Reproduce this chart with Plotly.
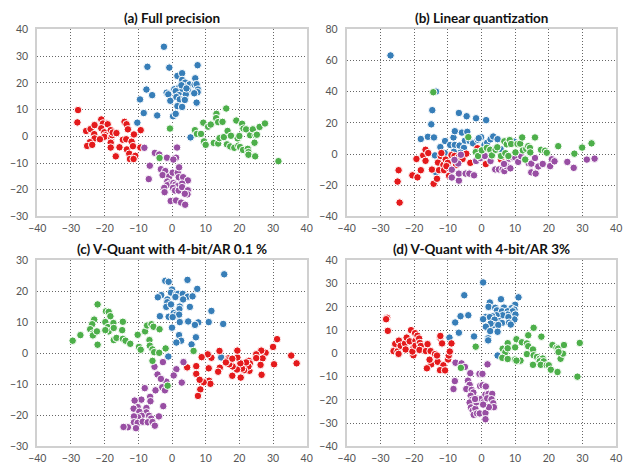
import plotly.graph_objects as go

# ---------------- data ----------------
# (a) Full precision
a_blue_x = [-2.4, -7.3, -0.8, 7.6, -7.6, -5.9, -9.5, -8.4, -4.4, -10.3, -1.6, -1.1, -0.5, 0.7, 1.6, 3.0, 3.0, 3.9, 5.2, 6.9, 6.7, 7.3, 7.7, 7.6, 6.6, 4.7, 3.5, 2.1, 2.4, 1.1, 2.1, 1.3, 2.3, 3.7, 4.1, 3.8, 0.3, 1.1, 1.6, 3.0, 7.3, 5.5, 2.8, 4.3]
a_blue_y = [33.5, 26.0, 25.7, 26.6, 17.5, 15.4, 13.8, 8.7, 7.8, 5.1, 16.3, 15.7, 13.3, 17.6, 22.6, 23.6, 21.1, 20.1, 19.4, 21.7, 19.3, 19.5, 17.5, 16.5, 16.1, 17.5, 18.7, 18.2, 17.0, 16.9, 15.4, 14.7, 13.8, 14.4, 15.7, 13.6, 7.5, 8.4, 11.3, 11.0, 12.6, -0.4, 19.1, 17.9]
a_green_x = [-0.6, -3.7, 13.2, 16.1, 13.1, 13.7, 15.0, 9.3, 10.7, 11.5, 6.8, 7.4, 8.6, 9.5, 10.0, 12.4, 13.7, 14.1, 15.4, 16.5, 17.5, 16.3, 17.3, 18.5, 19.1, 19.5, 20.0, 19.7, 20.2, 21.1, 20.8, 21.2, 22.0, 23.2, 24.0, 24.8, 26.0, 27.6, 25.2, 24.5, 22.5, 22.7, 22.7, 24.7, 31.6]
a_green_y = [2.9, -8.1, 8.4, 10.4, 6.8, 5.3, 5.4, 5.1, 3.6, 4.4, 2.3, 0.9, 0.9, -1.9, -3.2, -2.5, -2.7, -0.7, -0.3, 2.0, 0.2, -3.0, -3.8, -4.3, 5.9, -0.8, 0.1, -3.5, -4.0, -5.1, 4.7, 2.9, 2.6, 0.4, 2.6, 0.4, 3.5, 4.8, 0.6, -2.4, -4.7, -5.9, -6.9, -7.5, -9.3]
a_red_x = [-27.9, -28.1, -25.5, -24.2, -23.0, -23.1, -23.0, -24.4, -25.2, -23.7, -21.0, -19.4, -20.5, -21.0, -20.1, -19.8, -20.1, -21.4, -19.1, -18.2, -18.1, -17.8, -17.6, -18.2, -18.2, -16.5, -15.6, -16.7, -14.1, -13.5, -13.1, -14.6, -13.6, -13.4, -12.7, -12.0, -11.3, -11.6, -12.5, -10.9, -11.4, -9.3, -9.4]
a_red_y = [9.8, 5.2, 2.0, 2.7, 4.2, 0.8, -0.8, -2.2, -3.6, -3.2, 6.3, 4.8, 4.8, 3.0, 1.5, 0.4, -0.2, -1.1, 4.5, 2.3, -0.5, 0.4, 1.4, -2.4, -4.2, 1.2, -4.1, -7.5, 5.4, 4.5, 2.6, -1.3, -1.1, -4.9, -6.5, -2.0, 0.7, -3.7, -8.5, -7.3, -8.5, 2.3, -4.2]
a_purple_x = [-8.2, -5.1, -3.8, -1.5, 1.2, 0.4, 1.5, -6.6, -6.9, -3.3, -2.0, -2.8, -0.8, 0.2, 1.7, 2.1, 2.0, 3.3, 4.7, -1.4, -0.6, -1.4, -2.3, -2.2, 0.4, 1.0, 1.7, 3.0, 0.3, 0.9, 2.0, 3.0, 4.7, 4.6, 3.8, -0.4, 1.2, 2.7, 3.9]
a_purple_y = [-4.3, -6.2, -6.8, -8.0, -8.0, -8.7, -4.2, -11.0, -16.0, -12.3, -13.0, -14.5, -15.0, -13.6, -13.6, -11.6, -15.3, -15.3, -16.5, -16.9, -17.7, -18.3, -19.3, -20.9, -17.5, -18.1, -18.6, -17.7, -19.3, -20.3, -20.3, -19.0, -20.2, -21.7, -21.5, -24.2, -24.0, -24.8, -25.6]

# (b) Linear quantization
b_blue_x = [-27.0, -13.5, -14.6, -14.9, -18.0, -15.9, -14.1, -10.8, -8.3, -7.9, -6.7, -4.4, -1.6, 1.4, -5.8, -4.2, -12.2, -10.9, -9.3, -7.9, -6.5, -4.9, -5.2, -3.5, -2.5, -1.1, -0.1, -0.8, 0.9, 1.7, 2.7, 3.5, 4.8, 5.7, 9.7, -6.2, -6.1, -8.2, -13.5, -12.0, -13.8]
b_blue_y = [63.3, 40.1, 28.2, 19.1, 9.7, 11.1, 10.7, 8.4, 10.7, 14.7, 26.4, 24.3, 23.0, 21.8, 13.8, 14.3, 4.5, 0.7, 5.9, 5.9, 5.5, 8.6, 4.0, 8.4, 6.9, 9.2, 10.9, 10.2, 5.9, 7.3, 9.5, 11.3, 9.6, 3.2, 8.0, 0.9, -2.0, 1.5, -11.6, -8.5, -0.8]
b_green_x = [-14.3, -3.9, -1.7, -1.0, 0.1, 1.6, 2.6, 3.1, 4.2, 4.7, 5.8, 6.8, 7.5, 8.4, 8.8, 10.1, 10.7, 11.5, 12.1, 12.3, 13.3, 13.9, 14.4, 14.5, 13.0, 15.9, 17.7, 18.9, 19.4, 22.8, 27.6, 29.9, 32.7, 7.1, 8.0]
b_green_y = [39.7, 10.9, 1.3, -1.2, 2.4, 4.0, 2.8, -0.8, 2.8, 4.4, -1.2, 8.2, 6.3, 9.0, 6.5, 1.1, 6.5, 6.7, 10.7, 2.4, 3.4, 5.1, 4.0, 1.1, -3.5, 10.7, 2.8, 2.2, 0.9, 5.1, 0.3, 4.2, 6.9, 0.6, -1.2]
b_red_x = [-24.3, -24.9, -24.6, -20.5, -19.0, -19.3, -18.0, -17.3, -16.6, -15.8, -16.6, -14.7, -14.2, -13.2, -12.9, -12.6, -12.1, -11.9, -11.3, -11.1, -10.6, -10.0, -9.6, -9.6, -8.9, -8.0, -7.5, -6.8, -5.6, -4.5, -3.3, -1.2, 1.3, 5.8, -10.4]
b_red_y = [-31.1, -17.6, -10.3, -13.6, -14.9, -3.1, -10.3, -0.8, 2.8, 0.7, -4.3, -9.9, -19.0, -15.8, -5.4, -10.3, -1.2, 0.7, -6.9, -10.3, -3.5, -5.6, -9.1, -13.9, -0.6, -1.2, -7.0, -2.0, -3.1, 0.3, -5.6, 3.8, -6.4, -3.5, -7.7]
b_purple_x = [-8.8, -8.8, -6.7, -6.7, -6.9, -8.0, -6.1, -4.7, -3.6, -2.2, -1.6, -0.3, 1.0, 2.7, 3.3, 4.1, 5.2, 6.3, 6.8, 7.4, 8.6, 8.2, 9.3, 10.0, 10.9, 11.8, 13.0, 14.0, 14.8, 14.8, 16.1, 15.9, 16.9, 18.2, 20.4, 20.9, 21.7, 25.5, 27.4, 31.3, 33.6, 6.7]
b_purple_y = [-10.0, -15.0, -17.0, -12.5, -6.0, -3.7, -0.4, -12.5, -12.5, -13.6, -4.4, -2.5, -1.2, -4.4, 3.0, -9.8, -9.8, -9.8, -10.9, -7.7, -9.1, -2.9, -2.1, -2.1, -5.0, -1.4, -3.1, -5.8, -6.1, -11.7, -12.5, -2.5, -7.9, -6.3, -7.7, -3.3, -4.6, -5.0, -8.8, -3.5, -2.9, -6.3]

# (c) V-Quant with 4-bit/AR 0.1 %
c_blue_x = [15.5, 4.6, -2.0, -1.0, 7.5, 0.0, -0.3, 1.3, 1.8, 3.2, 4.7, 6.1, 3.3, 1.0, -1.4, -3.2, -4.2, -1.4, -1.7, -0.3, 2.3, 2.2, 5.3, 0.5, 1.2, 2.1, -1.0, 0.2, -3.6, 11.7, 0.0, 2.3, 4.8, 7.8, 6.8, 10.9, 15.2, 2.1, 2.7, 1.3, 5.8, 7.1, -1.1, 14.6]
c_blue_y = [25.5, 23.7, 23.4, 23.1, 20.8, 20.6, 19.6, 19.2, 19.2, 19.2, 18.3, 18.4, 17.4, 18.2, 17.4, 18.8, 18.1, 16.5, 15.0, 15.8, 15.1, 14.3, 15.0, 13.0, 12.5, 12.5, 11.8, 11.7, 12.0, 13.7, 8.3, 10.1, 10.3, 10.0, 9.2, 10.1, 9.5, 5.9, 4.1, 3.5, 2.9, 5.2, -1.0, -1.3]
c_green_x = [-29.5, -27.2, -22.1, -23.1, -23.7, -24.3, -23.5, -23.5, -22.3, -22.1, -19.8, -19.6, -18.8, -18.3, -19.0, -18.8, -19.8, -17.4, -17.3, -17.3, -16.5, -14.6, -14.8, -14.6, -13.8, -12.4, -10.2, -9.8, -9.3, -8.0, -7.4, -6.1, -5.5, -6.7, -6.6, -5.8, -5.3, -3.8, -3.7, -1.9, -5.8, 6.4, -1.3]
c_green_y = [4.1, 5.9, 15.8, 10.9, 9.4, 7.8, 6.4, 5.8, 7.1, 2.8, 10.1, 13.6, 13.4, 12.0, 8.5, 7.1, 7.5, 9.8, 8.2, 4.3, 5.0, 10.2, 7.5, 4.7, 4.1, 3.1, 6.0, 2.1, 1.2, 7.1, 9.0, 9.4, 8.6, 4.3, 2.5, 1.3, 0.4, 0.2, 7.8, 1.6, -2.4, 0.8, -10.4]
c_red_x = [31.2, 30.0, 35.4, 37.0, 30.3, 27.8, 26.5, 26.9, 26.6, 26.3, 25.0, 25.0, 22.8, 23.1, 23.0, 22.7, 22.0, 21.4, 20.8, 20.3, 20.4, 19.4, 19.4, 19.3, 18.0, 17.0, 16.7, 16.4, 17.9, 17.9, 16.0, 14.1, 14.2, 13.7, 11.7, 10.6, 10.9, 11.0, 11.4, 9.4, 8.8, 7.2, 7.2, 4.5, 8.4, 7.7, 8.2]
c_red_y = [4.6, 2.1, -0.7, -3.2, -3.5, 0.2, 0.9, -1.6, -6.9, -3.7, -0.3, -1.5, -2.4, -3.2, -5.6, -4.2, -2.9, -5.4, -4.9, -3.2, -7.8, -1.3, 0.9, -5.2, -4.2, -3.5, -1.6, -2.3, -1.7, -7.2, -2.9, 0.8, -4.6, -5.9, -1.4, -0.3, -4.8, -8.8, -9.8, -9.3, -1.2, -4.1, -6.6, -4.5, -11.6, -13.7, -8.5]
c_purple_x = [1.3, 3.4, 2.9, 0.5, -2.7, -5.2, -4.3, -1.7, -3.3, -2.9, -2.1, -4.9, -2.6, -3.9, -8.1, -6.5, -6.4, -7.6, -7.6, -6.8, -6.2, -9.1, -10.2, -11.1, -11.4, -9.7, -9.0, -10.1, -11.3, -11.3, -10.2, -8.7, -7.2, -5.8, -5.1, -10.7, -13.1, -14.4]
c_purple_y = [-5.1, -2.8, -9.4, -7.1, -2.8, -4.3, -6.8, -9.1, -8.2, -10.9, -11.9, -11.9, -17.0, -20.3, -11.2, -14.0, -15.4, -17.6, -19.0, -20.1, -21.0, -14.9, -17.3, -15.2, -17.8, -18.8, -20.1, -20.6, -20.3, -22.2, -22.4, -22.0, -22.2, -22.1, -23.3, -24.1, -23.8, -23.7]

# (d) V-Quant with 4-bit/AR 3%
d_blue_x = [0.5, -5.1, 11.0, 5.8, 2.5, 2.1, 10.0, 4.1, 6.7, 8.9, 9.8, 4.6, 6.1, 7.8, 9.3, 10.1, 7.8, 6.3, 4.5, 3.2, 1.3, 2.5, -6.2, -3.9, 0.5, 9.8, 8.0, 5.2, 3.9, 6.1, 3.7, 5.0, 2.7, 1.3, 8.2, 8.7, 2.6, 4.8, -7.8, -6.7, -2.2, 2.0, 2.0, -9.5, 4.8]
d_blue_y = [30.5, 25.0, 24.1, 23.3, 21.9, 20.0, 20.9, 19.6, 19.7, 19.4, 18.8, 18.5, 18.1, 18.1, 18.1, 16.7, 16.7, 16.4, 16.4, 16.0, 15.7, 15.6, 16.0, 16.4, 14.7, 14.6, 15.6, 13.9, 14.5, 13.1, 12.2, 12.2, 12.8, 11.5, 13.2, 12.4, 9.6, 9.3, 13.3, 8.9, 7.3, 6.5, 5.6, 6.8, -0.9]
d_green_x = [-1.7, -6.1, 15.5, 13.9, 17.8, 10.4, 12.0, 13.5, 13.9, 7.8, 10.0, 6.3, 7.1, 7.8, 6.2, 7.8, 10.0, 11.6, 10.4, 13.5, 15.3, 15.5, 16.5, 17.3, 17.8, 18.2, 17.3, 18.5, 17.6, 15.3, 19.4, 20.0, 20.6, 22.6, 21.1, 22.3, 22.8, 23.4, 23.5, 24.2, 24.5, 22.9, 29.2, 28.5]
d_green_y = [2.9, -6.2, 11.0, 7.8, 7.2, 6.1, 4.8, 4.3, 3.1, 4.4, 2.6, 2.0, 0.5, 2.2, -1.9, -2.4, -2.6, -3.1, -3.1, -0.3, 1.7, -0.8, -1.5, -2.3, -3.1, -2.2, -3.4, -3.4, -4.9, -4.9, -5.1, -5.1, -7.0, -8.0, 3.6, 2.4, 2.1, -0.1, -2.3, -0.1, 3.6, 0.6, 4.5, -10.0]
d_red_x = [-28.0, -28.3, -27.8, -25.6, -26.1, -24.9, -24.6, -24.5, -24.0, -22.7, -22.5, -22.2, -21.3, -20.9, -20.2, -20.2, -20.5, -19.7, -19.6, -19.6, -19.0, -18.5, -18.3, -18.0, -18.4, -16.5, -16.0, -15.1, -14.9, -15.4, -16.2, -13.0, -13.8, -13.2, -12.2, -12.2, -11.7, -11.3, -12.3, -10.8, -9.9, -9.7, -9.4, -8.9]
d_red_y = [15.3, 14.7, 9.7, 4.1, 1.0, 0.9, -0.2, 5.5, 3.3, 4.3, 1.7, 6.8, 5.2, 10.0, 2.3, -0.8, 0.8, 8.7, 5.4, 3.3, 7.6, 6.4, 4.5, 3.2, 1.5, 1.0, 4.0, 1.0, -4.7, -2.7, -6.4, -3.6, -0.3, -0.9, 6.6, 7.5, 4.3, -5.1, -7.2, -7.3, -2.6, -0.9, 0.8, 4.3]
d_purple_x = [-7.7, -5.9, -4.9, 1.8, -7.9, -8.3, -3.3, -0.6, 0.3, -4.0, -3.5, -4.5, -2.9, -2.4, -3.2, -2.8, -3.5, -3.1, -2.6, -1.8, -2.3, -1.3, -0.5, 1.2, 1.2, -1.5, -1.1, 0.0, 0.6, -0.4, 0.3, 1.3, 1.2, 2.1, 3.2, 1.7, 3.0, 3.5, 3.7, 2.2, 0.5, -1.9]
d_purple_y = [-4.0, -4.3, -5.8, -4.7, -11.9, -15.3, -8.5, -8.8, -8.8, -11.7, -13.5, -15.3, -15.7, -16.8, -18.2, -19.9, -21.1, -23.2, -24.6, -23.8, -26.4, -25.8, -25.8, -25.6, -28.3, -21.0, -19.5, -19.5, -21.0, -14.0, -13.7, -14.2, -17.7, -17.4, -17.4, -19.3, -19.7, -21.4, -23.1, -23.1, -22.0, -19.6]

titles = ["(a) Full precision", "(b) Linear quantization",
          "(c) V-Quant with 4-bit/AR 0.1 %", "(d) V-Quant with 4-bit/AR 3%"]
x_ticks = [-40, -30, -20, -10, 0, 10, 20, 30, 40]
y_ranges = [[-30, 40], [-40, 80], [-30, 30], [-40, 40]]
y_dticks = [10, 20, 10, 10]

# ---------------- styling ----------------
COLORS = {"blue": "#377eb8", "green": "#4daf4a", "red": "#e41a1c", "purple": "#984ea3"}
FONT = "Lato, 'Open Sans', sans-serif"

panels = [
    {"blue": (a_blue_x, a_blue_y), "red": (a_red_x, a_red_y), "purple": (a_purple_x, a_purple_y), "green": (a_green_x, a_green_y)},
    {"blue": (b_blue_x, b_blue_y), "red": (b_red_x, b_red_y), "purple": (b_purple_x, b_purple_y), "green": (b_green_x, b_green_y)},
    {"blue": (c_blue_x, c_blue_y), "red": (c_red_x, c_red_y), "purple": (c_purple_x, c_purple_y), "green": (c_green_x, c_green_y)},
    {"blue": (d_blue_x, d_blue_y), "red": (d_red_x, d_red_y), "purple": (d_purple_x, d_purple_y), "green": (d_green_x, d_green_y)},
]

W, H = 628, 471
# plot areas in pixels: (x0, x1, ytop, ybottom)
boxes = [(29, 305, 24, 216), (346, 622, 24, 216), (29, 305, 261, 452), (346, 622, 261, 452)]

fig = go.Figure()
layout = {}
annotations = []
for i, (panel, box) in enumerate(zip(panels, boxes)):
    n = "" if i == 0 else str(i + 1)
    for cname in ["blue", "red", "purple", "green"]:
        xs, ys = panel[cname]
        fig.add_trace(go.Scatter(
            x=xs, y=ys, mode="markers", xaxis="x" + n, yaxis="y" + n,
            marker=dict(color=COLORS[cname], size=7.5, line=dict(color="white", width=1)),
            showlegend=False, hoverinfo="skip"))
    x0, x1, yt, yb = box
    axcommon = dict(showgrid=True, gridcolor="#666666", griddash="1px,2px", gridwidth=1,
                    showline=True, linecolor="#d0d0d0", linewidth=2, mirror=True,
                    zeroline=False, ticks="", tickfont=dict(family=FONT, size=10.5, color="#555555"),
                    fixedrange=True)
    layout["xaxis" + n] = dict(axcommon, domain=[x0 / W, x1 / W], range=[-40, 40],
                               tickvals=x_ticks, anchor="y" + n, ticklabelstandoff=1)
    layout["yaxis" + n] = dict(axcommon, domain=[1 - yb / H, 1 - yt / H], range=y_ranges[i],
                               dtick=y_dticks[i], tick0=0, anchor="x" + n, ticklabelstandoff=5)
    annotations.append(dict(text="<b>" + titles[i] + "</b>", xref="paper", yref="paper",
                            x=(x0 + x1) / 2 / W, y=1 - (yt - 1) / H, xanchor="center",
                            yanchor="bottom", showarrow=False,
                            font=dict(family=FONT, size=13.5, color="#111111")))

fig.update_layout(**layout)
fig.update_layout(width=W, height=H, margin=dict(l=0, r=0, t=0, b=0),
                  paper_bgcolor="white", plot_bgcolor="white",
                  annotations=annotations, font=dict(family=FONT))
fig.write_html("out.html", config={"displayModeBar": False},
               post_script="document.body.style.margin='0';document.body.style.overflow='hidden';")
